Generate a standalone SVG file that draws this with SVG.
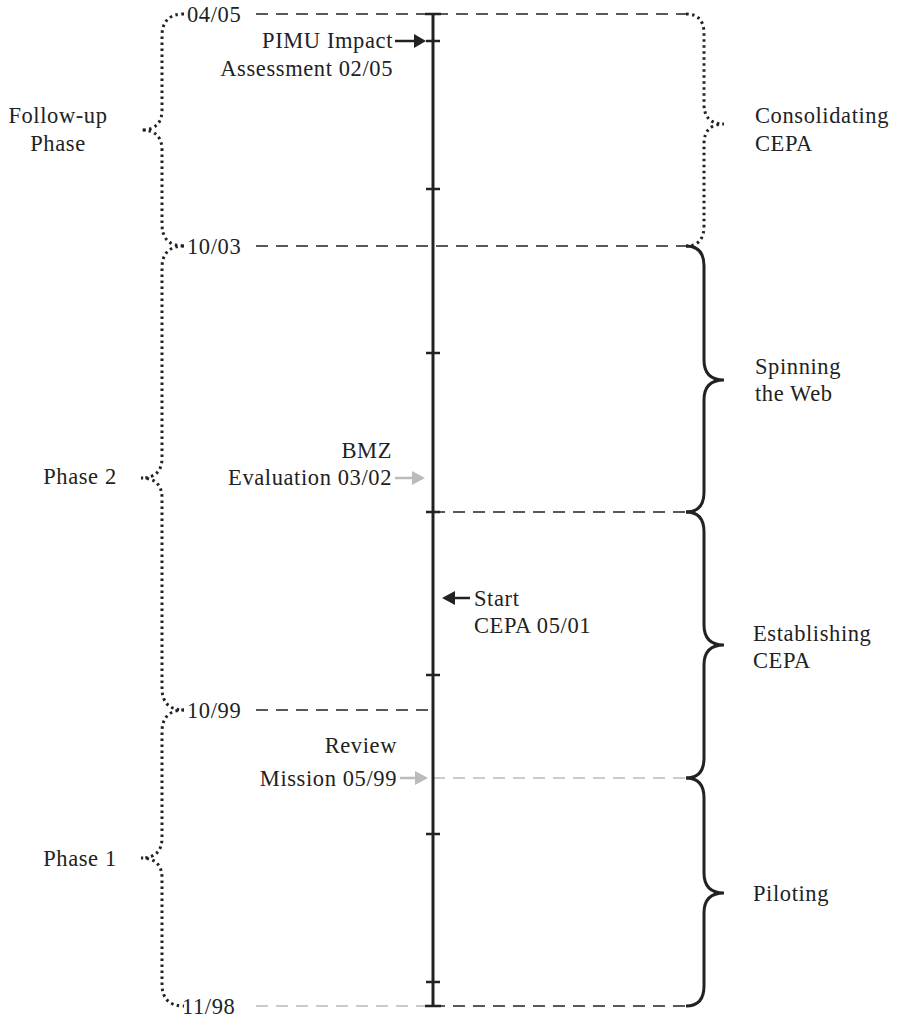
<svg xmlns="http://www.w3.org/2000/svg" width="903" height="1021" viewBox="0 0 903 1021">
<style>
text{font-family:"Liberation Serif","DejaVu Serif",serif;font-size:22.5px;letter-spacing:0.6px;fill:#222}
.r{text-anchor:end}
.m{text-anchor:middle}
.dash{fill:none;stroke:#222;stroke-width:1.5;stroke-dasharray:12 8}
.gdash{fill:none;stroke:#bbb;stroke-width:1.5;stroke-dasharray:12 8}
.dot{fill:none;stroke:#222;stroke-width:3;stroke-dasharray:2.5 3.5}
.solid{fill:none;stroke:#222;stroke-width:3}
.tick{stroke:#222;stroke-width:2.5}
</style>
<g id="connectors">
<path class="dash" d="M256 14 H690"/>
<path class="dash" d="M256 246 H690"/>
<path class="dash" d="M433 512 H690"/>
<path class="dash" d="M256 710 H433"/>
<path class="gdash" d="M433 778 H690"/>
<path class="gdash" d="M256 1006 H433"/>
<path class="dash" d="M433 1006 H690"/>
<line x1="395" y1="41" x2="416" y2="41" stroke="#222" stroke-width="2.5"/>
<path d="M414 34 L426 41 L414 48 z" fill="#222"/>
<line x1="395" y1="478" x2="414" y2="478" stroke="#bbb" stroke-width="2.5"/>
<path d="M412 471 L425 478 L412 485 z" fill="#bbb"/>
<line x1="400" y1="778" x2="417" y2="778" stroke="#bbb" stroke-width="2.5"/>
<path d="M415 771 L428 778 L415 785 z" fill="#bbb"/>
<line x1="470" y1="598" x2="452" y2="598" stroke="#222" stroke-width="2.5"/>
<path d="M455 591 L442 598 L455 605 z" fill="#222"/>
</g>
<g id="timeline">
<line x1="433" y1="14" x2="433" y2="1006" stroke="#222" stroke-width="3"/>
<line class="tick" x1="425" y1="14" x2="441" y2="14" stroke-width="3"/>
<line class="tick" x1="425" y1="1006" x2="441" y2="1006" stroke-width="3"/>
<line class="tick" x1="426" y1="41" x2="440" y2="41"/>
<line class="tick" x1="426" y1="189" x2="440" y2="189"/>
<line class="tick" x1="426" y1="353" x2="440" y2="353"/>
<line class="tick" x1="426" y1="512" x2="440" y2="512"/>
<line class="tick" x1="426" y1="675" x2="440" y2="675"/>
<line class="tick" x1="426" y1="834" x2="440" y2="834"/>
<line class="tick" x1="426" y1="982" x2="440" y2="982"/>
</g>
<g id="brace-followup">
<path class="dot" d="M184 14 Q162 14 162 36 L162 110 Q162 130 141 130 Q162 130 162 150 L162 224 Q162 246 184 246"/>
<text class="m" x="58" y="123">Follow-up</text>
<text class="m" x="58" y="151">Phase</text>
</g>
<g id="brace-phase2">
<path class="dot" d="M184 246 Q162 246 162 268 L162 458 Q162 478 141 478 Q162 478 162 498 L162 688 Q162 710 184 710"/>
<text class="m" x="80" y="484">Phase 2</text>
</g>
<g id="brace-phase1">
<path class="dot" d="M184 710 Q162 710 162 732 L162 838 Q162 858 141 858 Q162 858 162 878 L162 984 Q162 1006 184 1006"/>
<text class="m" x="80" y="866">Phase 1</text>
</g>
<g id="brace-consolidating">
<path class="dot" d="M686 14 Q704 14 704 34 L704 104 Q704 124 724 124 Q704 124 704 144 L704 226 Q704 246 686 246"/>
<text x="755" y="123">Consolidating</text>
<text x="755" y="151">CEPA</text>
</g>
<g id="brace-spinning">
<path class="solid" d="M686 246 Q704 246 704 266 L704 360 Q704 380 724 380 Q704 380 704 400 L704 492 Q704 512 686 512"/>
<text x="755" y="374">Spinning</text>
<text x="755" y="401">the Web</text>
</g>
<g id="brace-establishing">
<path class="solid" d="M686 512 Q704 512 704 532 L704 625 Q704 645 724 645 Q704 645 704 665 L704 758 Q704 778 686 778"/>
<text x="753" y="641">Establishing</text>
<text x="753" y="668">CEPA</text>
</g>
<g id="brace-piloting">
<path class="solid" d="M686 778 Q704 778 704 798 L704 873 Q704 893 724 893 Q704 893 704 913 L704 986 Q704 1006 686 1006"/>
<text x="753" y="901">Piloting</text>
</g>
<g id="dates">
<text x="187" y="22">04/05</text>
<text x="187" y="254">10/03</text>
<text x="187" y="718">10/99</text>
<text x="182" y="1014">11/98</text>
</g>
<g id="event-pimu">
<text class="r" x="393" y="48">PIMU Impact</text>
<text class="r" x="393" y="76">Assessment 02/05</text>
</g>
<g id="event-bmz">
<text class="r" x="392" y="458">BMZ</text>
<text class="r" x="392" y="485">Evaluation 03/02</text>
</g>
<g id="event-start">
<text x="474" y="606">Start</text>
<text x="474" y="633">CEPA 05/01</text>
</g>
<g id="event-review">
<text class="r" x="397" y="753">Review</text>
<text class="r" x="397" y="786">Mission 05/99</text>
</g>
</svg>
